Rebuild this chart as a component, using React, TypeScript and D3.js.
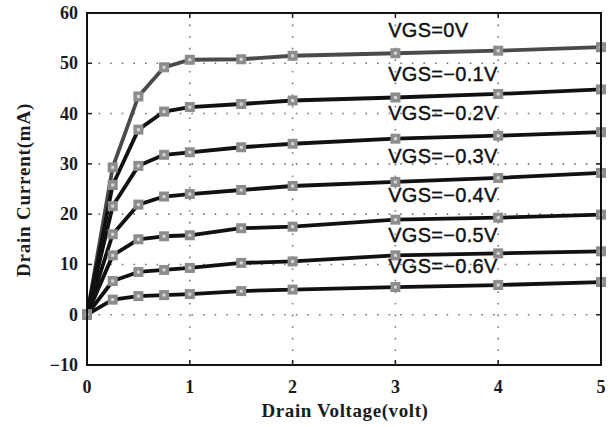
import React from "react";
import * as d3 from "d3";

const xValues = [0, 0.25, 0.5, 0.75, 1, 1.5, 2, 3, 4, 5];
const vgs0 = [0, 29.3, 43.4, 49.2, 50.7, 50.8, 51.5, 52.0, 52.5, 53.2];
const vgsM01 = [0, 25.8, 36.8, 40.4, 41.3, 41.9, 42.6, 43.2, 43.9, 44.8];
const vgsM02 = [0, 21.6, 29.6, 31.8, 32.3, 33.3, 34.0, 35.0, 35.6, 36.3];
const vgsM03 = [0, 16.0, 21.9, 23.5, 24.0, 24.8, 25.6, 26.4, 27.2, 28.2];
const vgsM04 = [0, 11.8, 15.0, 15.6, 15.8, 17.2, 17.5, 18.9, 19.3, 19.9];
const vgsM05 = [0, 6.7, 8.5, 8.9, 9.3, 10.3, 10.6, 11.8, 12.2, 12.6];
const vgsM06 = [0, 3.0, 3.7, 3.9, 4.1, 4.7, 5.0, 5.5, 5.9, 6.5];

const seriesNames = ["VGS=0V", "VGS=\u22120.1V", "VGS=\u22120.2V", "VGS=\u22120.3V", "VGS=\u22120.4V", "VGS=\u22120.5V", "VGS=\u22120.6V"];
const labelX = [2.93, 2.93, 2.93, 2.93, 2.93, 2.93, 2.93];
const labelY = [55.2, 46.4, 38.7, 30.2, 22.4, 14.5, 8.3];

const xTicks = [0, 1, 2, 3, 4, 5];
const yTicks = [-10, 0, 10, 20, 30, 40, 50, 60];

export default function App() {
  const W = 610, H = 427;
  const left = 87, right = 601, top = 13, bottom = 365;
  const x = d3.scaleLinear().domain([0, 5]).range([left, right]);
  const y = d3.scaleLinear().domain([-10, 60]).range([bottom, top]);
  const allSeries = [vgs0, vgsM01, vgsM02, vgsM03, vgsM04, vgsM05, vgsM06];
  const line = d3.line<number>().x((_, i) => x(xValues[i])).y((d) => y(d));
  const serif = "'Liberation Serif', 'Times New Roman', serif";
  const sans = "'Liberation Sans', Arial, sans-serif";

  return (
    <svg width={W} height={H} style={{ position: "absolute", left: 0, top: 0, background: "#fff" }}>
      <rect x={0} y={0} width={W} height={H} fill="#fff" />
      {xTicks.slice(1, -1).map((t) => (
        <line key={"gx" + t} x1={x(t)} x2={x(t)} y1={top} y2={bottom} stroke="#777" strokeWidth={1.6} strokeDasharray="1.6,10" />
      ))}
      {yTicks.slice(1, -1).map((t) => (
        <line key={"gy" + t} x1={left} x2={right} y1={y(t)} y2={y(t)} stroke="#777" strokeWidth={1.6} strokeDasharray="1.6,10" />
      ))}
      {xTicks.map((t) => (
        <g key={"tx" + t}>
          <line x1={x(t)} x2={x(t)} y1={bottom} y2={bottom - 5} stroke="#222" strokeWidth={1.5} />
          <line x1={x(t)} x2={x(t)} y1={top} y2={top + 5} stroke="#222" strokeWidth={1.5} />
          <text x={x(t)} y={393} textAnchor="middle" fontFamily={serif} fontWeight="bold" fontSize={18} fill="#1a1a22">{t}</text>
        </g>
      ))}
      {yTicks.map((t) => (
        <g key={"ty" + t}>
          <line x1={left} x2={left + 5} y1={y(t)} y2={y(t)} stroke="#222" strokeWidth={1.5} />
          <line x1={right} x2={right - 5} y1={y(t)} y2={y(t)} stroke="#222" strokeWidth={1.5} />
          <text x={78} y={y(t) + 6} textAnchor="end" fontFamily={serif} fontWeight="bold" fontSize={18} fill="#1a1a22">{t < 0 ? "\u2212" + Math.abs(t) : t}</text>
        </g>
      ))}
      {allSeries.map((s, si) => (
        <path key={"l" + si} d={line(s) || ""} fill="none" stroke={si === 0 ? "#4a4a4a" : "#111"} strokeWidth={3.8} strokeLinejoin="round" />
      ))}
      {allSeries.map((s, si) =>
        s.map((v, i) => (
          <g key={"m" + si + "-" + i}>
            <rect x={x(xValues[i]) - 5} y={y(v) - 5} width={10} height={10} fill="#8c8c8c" />
            <rect x={x(xValues[i]) - 1.5} y={y(v) - 1.5} width={3} height={3} fill="#d8d8d8" />
          </g>
        ))
      )}
      <rect x={left} y={top} width={right - left} height={bottom - top} fill="none" stroke="#111" strokeWidth={2} />
      {seriesNames.map((n, i) => (
        <text key={"n" + i} x={x(labelX[i])} y={y(labelY[i])} fontFamily={sans} fontSize={20} fill="#111" stroke="#111" strokeWidth={0.4} letterSpacing={0.3}>{n}</text>
      ))}
      <text x={345} y={417} textAnchor="middle" fontFamily={serif} fontWeight="bold" fontSize={19} letterSpacing={0.6} fill="#1a1a22">Drain Voltage(volt)</text>
      <text transform={`translate(30,190) rotate(-90)`} textAnchor="middle" fontFamily={serif} fontWeight="bold" fontSize={19} letterSpacing={0.8} fill="#1a1a22">Drain Current(mA)</text>
    </svg>
  );
}
